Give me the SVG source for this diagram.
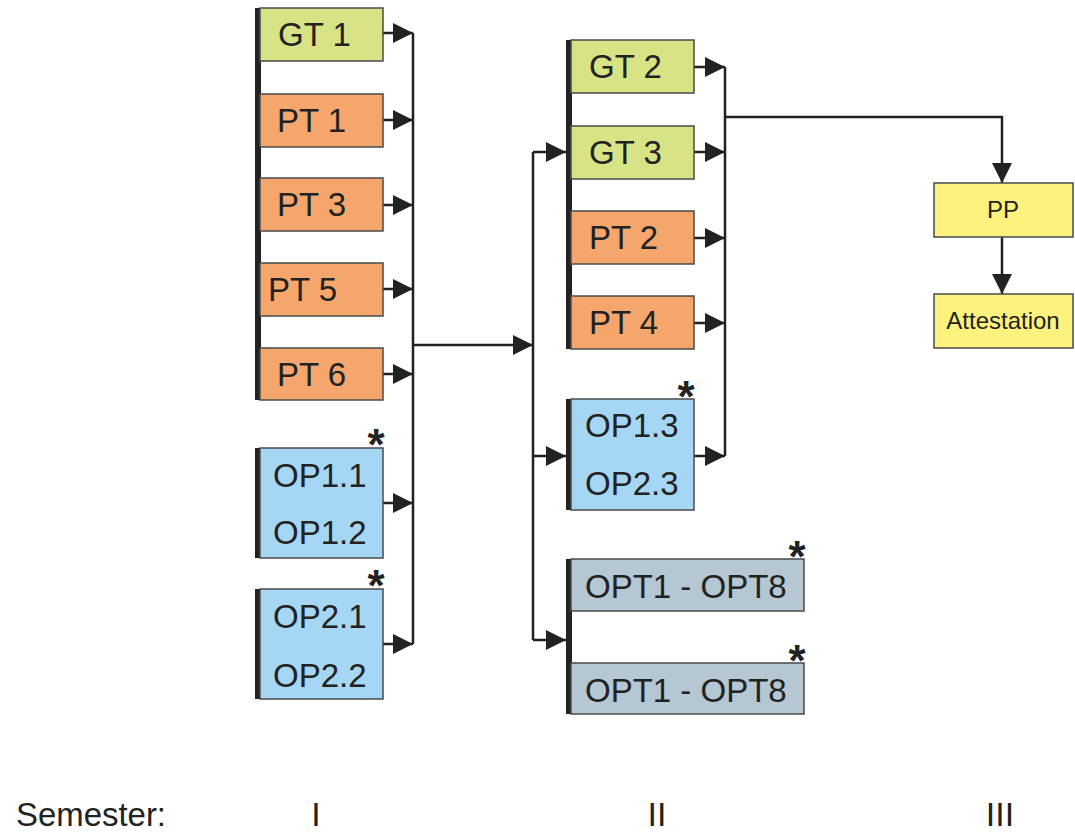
<svg xmlns="http://www.w3.org/2000/svg" width="1075" height="833" viewBox="0 0 1075 833">
<style>
.box{stroke:#4a4a4a;stroke-width:1.5}
.gt{fill:#d8e385}
.pt{fill:#f5a66c}
.op{fill:#a5d7f5}
.opt{fill:#b4c7d2}
.pp{fill:#fdf27d}
.bar{fill:#222}
.t{font-family:"Liberation Sans",Arial,sans-serif;font-size:33px;fill:#222}
.s{font-family:"Liberation Sans",Arial,sans-serif;font-size:24px;fill:#222}
.ast{font-family:"Liberation Sans",Arial,sans-serif;font-size:44px;font-weight:bold;fill:#222;text-anchor:middle}
.sem{font-family:"Liberation Sans",Arial,sans-serif;font-size:34px;fill:#222}
.c{fill:none;stroke:#222;stroke-width:2.5}
</style>
<defs>
<marker id="ah" markerUnits="userSpaceOnUse" markerWidth="20" markerHeight="20" refX="20" refY="10" orient="auto">
<path d="M0,0 L20,10 L0,20 z" fill="#222"/>
</marker>
</defs>
<g id="connectors">
<path class="c" d="M413,33 V644"/>
<path class="c" d="M383,33 H413" marker-end="url(#ah)"/>
<path class="c" d="M383,120 H413" marker-end="url(#ah)"/>
<path class="c" d="M383,205 H413" marker-end="url(#ah)"/>
<path class="c" d="M383,289 H413" marker-end="url(#ah)"/>
<path class="c" d="M383,374 H413" marker-end="url(#ah)"/>
<path class="c" d="M383,503 H413" marker-end="url(#ah)"/>
<path class="c" d="M383,644 H413" marker-end="url(#ah)"/>
<path class="c" d="M413,345 H533" marker-end="url(#ah)"/>
<path class="c" d="M533,152 V640"/>
<path class="c" d="M533,152 H566" marker-end="url(#ah)"/>
<path class="c" d="M533,456 H566" marker-end="url(#ah)"/>
<path class="c" d="M533,640 H566" marker-end="url(#ah)"/>
<path class="c" d="M725,67 V456"/>
<path class="c" d="M694,67 H725" marker-end="url(#ah)"/>
<path class="c" d="M694,152 H725" marker-end="url(#ah)"/>
<path class="c" d="M694,238 H725" marker-end="url(#ah)"/>
<path class="c" d="M694,323 H725" marker-end="url(#ah)"/>
<path class="c" d="M694,456 H725" marker-end="url(#ah)"/>
<path class="c" d="M725,117 H1002 V183" marker-end="url(#ah)"/>
<path class="c" d="M1002,237 V294" marker-end="url(#ah)"/>
</g>
<g id="bars">
<rect class="bar" x="255" y="8" width="6" height="392"/>
<rect class="bar" x="255" y="448" width="6" height="110"/>
<rect class="bar" x="255" y="589" width="6" height="110"/>
<rect class="bar" x="566" y="40" width="6" height="309"/>
<rect class="bar" x="566" y="399" width="6" height="111"/>
<rect class="bar" x="566" y="559" width="6" height="155"/>
</g>
<g id="GT1"><rect class="box gt" x="260" y="8" width="123" height="53"/><text class="t" x="278" y="46">GT 1</text></g>
<g id="PT1"><rect class="box pt" x="260" y="94" width="123" height="53"/><text class="t" x="277" y="132">PT 1</text></g>
<g id="PT3"><rect class="box pt" x="260" y="178" width="123" height="53"/><text class="t" x="277" y="216">PT 3</text></g>
<g id="PT5"><rect class="box pt" x="260" y="263" width="123" height="53"/><text class="t" x="268" y="301">PT 5</text></g>
<g id="PT6"><rect class="box pt" x="260" y="348" width="123" height="52"/><text class="t" x="277" y="386">PT 6</text></g>
<g id="OP1"><rect class="box op" x="260" y="448" width="123" height="110"/><text class="t" x="273" y="487">OP1.1</text><text class="t" x="273" y="544">OP1.2</text><text class="ast" x="376" y="460">*</text></g>
<g id="OP2"><rect class="box op" x="260" y="589" width="123" height="110"/><text class="t" x="273" y="628">OP2.1</text><text class="t" x="273" y="687">OP2.2</text><text class="ast" x="376" y="601">*</text></g>
<g id="GT2"><rect class="box gt" x="571" y="40" width="123" height="53"/><text class="t" x="589" y="78">GT 2</text></g>
<g id="GT3"><rect class="box gt" x="571" y="126" width="123" height="53"/><text class="t" x="589" y="164">GT 3</text></g>
<g id="PT2"><rect class="box pt" x="571" y="211" width="123" height="53"/><text class="t" x="589" y="249">PT 2</text></g>
<g id="PT4"><rect class="box pt" x="571" y="296" width="123" height="53"/><text class="t" x="589" y="334">PT 4</text></g>
<g id="OP3"><rect class="box op" x="571" y="399" width="123" height="111"/><text class="t" x="585" y="437">OP1.3</text><text class="t" x="585" y="495">OP2.3</text><text class="ast" x="686" y="412">*</text></g>
<g id="OPT_A"><rect class="box opt" x="571" y="559" width="233" height="52"/><text class="t" x="585" y="598">OPT1 - OPT8</text><text class="ast" x="797" y="572">*</text></g>
<g id="OPT_B"><rect class="box opt" x="571" y="663" width="233" height="51"/><text class="t" x="585" y="702">OPT1 - OPT8</text><text class="ast" x="797" y="676">*</text></g>
<g id="PP"><rect class="box pp" x="934" y="183" width="139" height="54"/><text class="s" x="1003" y="218" text-anchor="middle">PP</text></g>
<g id="Attestation"><rect class="box pp" x="934" y="294" width="139" height="54"/><text class="s" x="1003" y="329" text-anchor="middle">Attestation</text></g>
<g id="semesters">
<text class="sem" x="16" y="826" textLength="150" lengthAdjust="spacingAndGlyphs">Semester:</text>
<text class="sem" x="316" y="826" text-anchor="middle">I</text>
<text class="sem" x="657" y="826" text-anchor="middle">II</text>
<text class="sem" x="1000" y="826" text-anchor="middle">III</text>
</g>
</svg>
